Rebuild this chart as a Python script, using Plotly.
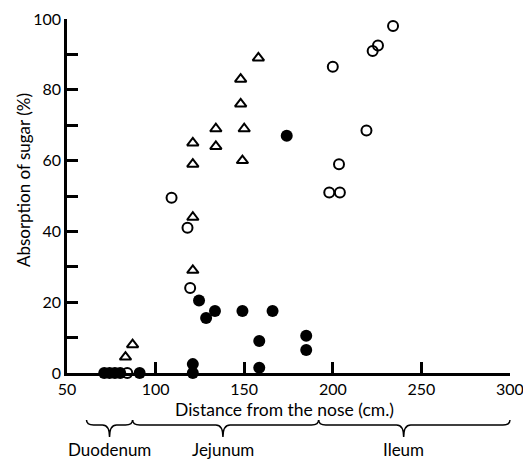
import plotly.graph_objects as go

# ---- data ----
tri_x = [158, 148, 148, 150, 149, 134, 134, 121, 121, 121, 121, 87, 83]
tri_y = [89, 83, 76, 69, 60, 69, 64, 65, 59, 44, 29, 8, 4.5]

open_x = [109, 118, 119.5, 84, 234, 225.5, 222.5, 200, 219, 203.5, 198, 204]
open_y = [49.5, 41, 24, 0, 98, 92.5, 91, 86.5, 68.5, 59, 51, 51]

fill_x = [174, 124.5, 128.5, 133.5, 149, 166, 158.5, 158.5, 185, 185, 121, 121, 71, 74, 77, 80, 91]
fill_y = [67, 20.5, 15.5, 17.5, 17.5, 17.5, 9, 1.5, 10.5, 6.5, 2.5, 0, 0, 0, 0, 0, 0]

x_ticks = [50, 100, 150, 200, 250, 300]
y_ticks = [0, 20, 40, 60, 80, 100]

sections = ["Duodenum", "Jejunum", "Ileum"]
section_start = [61, 87, 192]
section_mid = [74, 138, 240]
section_end = [87, 192, 300]

X_RANGE = [49.99, 300.01]
Y_RANGE = [-0.01, 100.01]
FONT = "Lato"

fig = go.Figure()
fig.add_trace(go.Scatter(x=tri_x, y=tri_y, mode="markers", cliponaxis=False,
                         marker=dict(symbol="triangle-up-open", size=10, color="black",
                                     line=dict(width=2, color="black")), showlegend=False))
fig.add_trace(go.Scatter(x=open_x, y=open_y, mode="markers", cliponaxis=False,
                         marker=dict(symbol="circle-open", size=10, color="black",
                                     line=dict(width=2, color="black")), showlegend=False))
fig.add_trace(go.Scatter(x=fill_x, y=fill_y, mode="markers", cliponaxis=False,
                         marker=dict(symbol="circle", size=12, color="black",
                                     line=dict(width=0)), showlegend=False))


def px(x):
    return (x - X_RANGE[0]) / (X_RANGE[1] - X_RANGE[0])


y_end, y_line, y_tip = -0.133, -0.147, -0.181
d = 0.016
shapes = []
annotations = []
for name, a, m, b in zip(sections, section_start, section_mid, section_end):
    x0, xm, x1 = px(a), px(m), px(b)
    path = (f"M {x0},{y_end} Q {x0},{y_line} {x0 + d},{y_line} "
            f"L {xm - d},{y_line} Q {xm},{y_line} {xm},{y_tip} "
            f"Q {xm},{y_line} {xm + d},{y_line} "
            f"L {x1 - d},{y_line} Q {x1},{y_line} {x1},{y_end}")
    shapes.append(dict(type="path", path=path, xref="paper", yref="paper",
                       line=dict(color="black", width=1.5)))
    annotations.append(dict(text=name, x=xm, y=-0.217, xref="paper", yref="paper",
                            showarrow=False, xanchor="center", yanchor="middle",
                            font=dict(family=FONT, size=17, color="black")))

annotations.append(dict(text="Distance from the nose (cm.)", x=0.492, y=-0.1045,
                        xref="paper", yref="paper", showarrow=False,
                        xanchor="center", yanchor="middle",
                        font=dict(family=FONT, size=17.5, color="black")))
annotations.append(dict(text="Absorption of sugar (%)", x=-0.0993, y=0.545,
                        xref="paper", yref="paper", showarrow=False, textangle=-90,
                        xanchor="center", yanchor="middle",
                        font=dict(family=FONT, size=17, color="black")))

fig.update_layout(
    width=523, height=459,
    margin=dict(l=67, r=13, t=19, b=86),
    paper_bgcolor="white", plot_bgcolor="white",
    font=dict(family=FONT, size=16, color="black"),
    shapes=shapes, annotations=annotations,
    xaxis=dict(range=X_RANGE, tickvals=x_ticks, showgrid=False, zeroline=False,
               showline=True, linecolor="black", linewidth=2.5,
               ticks="inside", ticklen=11, tickwidth=2.5, tickcolor="black",
               tickfont=dict(size=16), ticklabeloverflow="allow", automargin=False),
    yaxis=dict(range=Y_RANGE, tickvals=y_ticks, showgrid=False, zeroline=False,
               showline=True, linecolor="black", linewidth=2.5,
               ticks="inside", ticklen=11, tickwidth=2.5, tickcolor="black",
               tickfont=dict(size=16), ticklabeloverflow="allow",
               minor=dict(dtick=10, tick0=0, ticks="inside", ticklen=11,
                          tickwidth=2.5, tickcolor="black", showgrid=False),
               automargin=False),
)

fig.write_html("out.html")
